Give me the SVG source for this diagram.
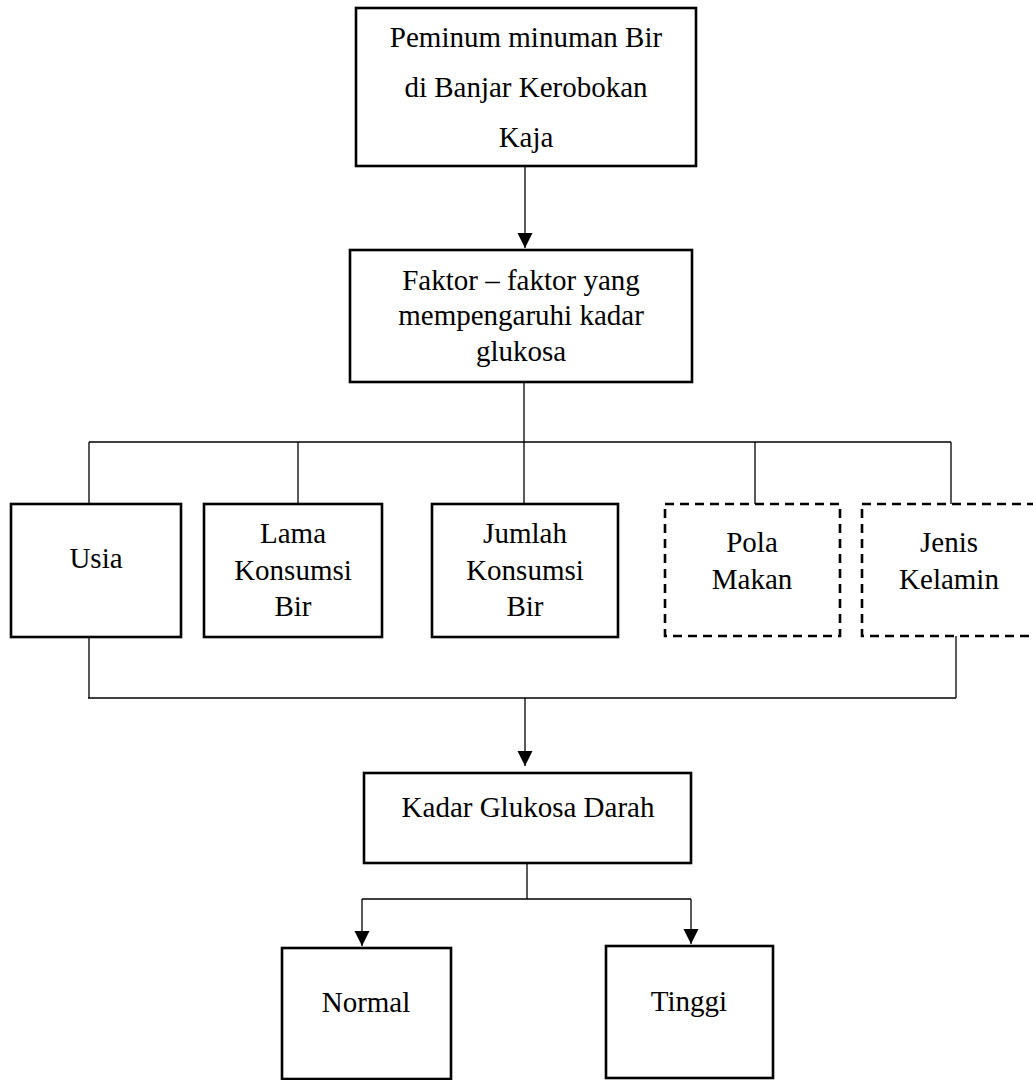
<svg xmlns="http://www.w3.org/2000/svg" width="1033" height="1080" viewBox="0 0 1033 1080">
<style>
.box{fill:#fff;stroke:#000;stroke-width:2.6}
.dash{fill:#fff;stroke:#000;stroke-width:2.6;stroke-dasharray:9,6}
.ln{fill:none;stroke:#000;stroke-width:1.3}
text{font-family:"Liberation Serif","Times New Roman",serif;font-size:29px;fill:#000;text-anchor:middle}
</style>
<defs>
<marker id="arr" markerUnits="userSpaceOnUse" markerWidth="16" markerHeight="16" refX="15" refY="7.5" orient="auto">
<path d="M0,0 L15,7.5 L0,15 Z" fill="#000"/>
</marker>
</defs>
<rect width="1033" height="1080" fill="#fff"/>
<g id="connectors">
<line class="ln" x1="525" y1="166" x2="525" y2="248" marker-end="url(#arr)"/>
<line class="ln" x1="524" y1="382" x2="524" y2="504"/>
<line class="ln" x1="89" y1="442" x2="951" y2="442"/>
<line class="ln" x1="89" y1="442" x2="89" y2="504"/>
<line class="ln" x1="298" y1="442" x2="298" y2="504"/>
<line class="ln" x1="755" y1="442" x2="755" y2="504"/>
<line class="ln" x1="951" y1="442" x2="951" y2="504"/>
<line class="ln" x1="89" y1="637" x2="89" y2="698"/>
<line class="ln" x1="956" y1="636" x2="956" y2="698"/>
<line class="ln" x1="88" y1="698" x2="956" y2="698"/>
<line class="ln" x1="525" y1="698" x2="525" y2="766" marker-end="url(#arr)"/>
<line class="ln" x1="527" y1="863" x2="527" y2="899"/>
<line class="ln" x1="362" y1="899" x2="691" y2="899"/>
<line class="ln" x1="362" y1="899" x2="362" y2="946" marker-end="url(#arr)"/>
<line class="ln" x1="691" y1="899" x2="691" y2="944" marker-end="url(#arr)"/>
</g>
<g id="peminum">
<rect class="box" x="356" y="8" width="340" height="158"/>
<text x="526" y="47">Peminum minuman Bir</text>
<text x="526" y="97">di Banjar Kerobokan</text>
<text x="526" y="147">Kaja</text>
</g>
<g id="faktor">
<rect class="box" x="350" y="250" width="342" height="132"/>
<text x="521" y="290">Faktor – faktor yang</text>
<text x="521" y="325">mempengaruhi kadar</text>
<text x="521" y="361">glukosa</text>
</g>
<g id="usia">
<rect class="box" x="11" y="504" width="170" height="133"/>
<text x="96" y="568">Usia</text>
</g>
<g id="lama">
<rect class="box" x="204" y="504" width="178" height="133"/>
<text x="293" y="543">Lama</text>
<text x="293" y="580">Konsumsi</text>
<text x="293" y="616">Bir</text>
</g>
<g id="jumlah">
<rect class="box" x="432" y="504" width="186" height="133"/>
<text x="525" y="543">Jumlah</text>
<text x="525" y="580">Konsumsi</text>
<text x="525" y="616">Bir</text>
</g>
<g id="pola">
<rect class="dash" x="665" y="504" width="175" height="132"/>
<text x="752" y="552">Pola</text>
<text x="752" y="589">Makan</text>
</g>
<g id="jenis">
<rect class="dash" x="862" y="504" width="190" height="132"/>
<text x="949" y="552">Jenis</text>
<text x="949" y="589">Kelamin</text>
</g>
<g id="kadar">
<rect class="box" x="364" y="773" width="327" height="90"/>
<text x="528" y="817">Kadar Glukosa Darah</text>
</g>
<g id="normal">
<rect class="box" x="282" y="948" width="169" height="131"/>
<text x="366" y="1012">Normal</text>
</g>
<g id="tinggi">
<rect class="box" x="606" y="946" width="167" height="132"/>
<text x="689" y="1011">Tinggi</text>
</g>
</svg>
